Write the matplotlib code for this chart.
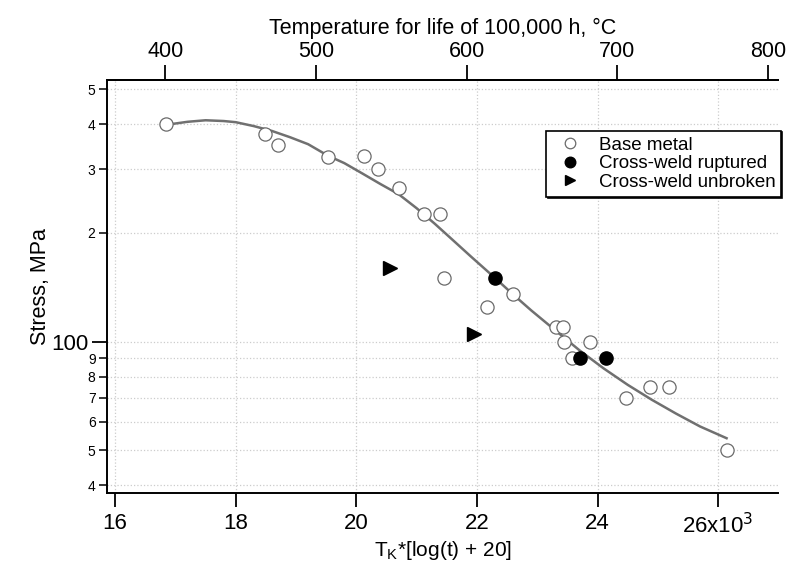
import matplotlib
matplotlib.use("Agg")
import matplotlib.pyplot as plt
from matplotlib.ticker import FixedLocator, FixedFormatter

plt.rcParams["font.family"] = ["Liberation Sans", "DejaVu Sans"]

# Larson-Miller parameter (x10^3) and stress (MPa)
base_x = [16.84, 18.485, 18.70, 19.53, 20.12, 20.36, 20.70, 21.13, 21.38, 21.46,
          22.16, 22.60, 23.31, 23.42, 23.45, 23.57, 23.88, 24.47, 24.87, 25.19, 26.14]
base_y = [400, 376, 350, 325, 326, 300, 266, 225, 225, 150,
          125, 135, 110, 110, 100, 90, 100, 70, 75, 75, 50]

rupt_x = [22.30, 23.71, 24.14]
rupt_y = [150, 90, 90]

unbr_x = [20.56, 21.95]
unbr_y = [160, 105]

# fitted curve
fit_x = [16.925, 17.2, 17.5, 17.8, 18.0, 18.3, 18.6, 18.9, 19.2, 19.53,
         19.8, 20.1, 20.4, 20.7, 21.0, 21.3, 21.6, 21.9, 22.3, 22.6,
         22.9, 23.3, 23.7, 24.1, 24.5, 24.9, 25.3, 25.7, 26.14]
fit_y = [400, 406, 410, 408, 405, 395, 383, 368, 352, 327,
         312, 292, 273, 256, 234, 212, 191, 172, 150, 135,
         122, 107.4, 94.6, 84.3, 75.9, 69, 63.2, 58.2, 54]

xticks = [16, 18, 20, 22, 24, 26]
xlabels = ["16", "18", "20", "22", "24", "26x10$^{3}$"]
temp_ticks = [400, 500, 600, 700, 800]
minor_y = [40, 50, 60, 70, 80, 90, 200, 300, 400, 500]
minor_lab = ["4", "5", "6", "7", "8", "9", "2", "3", "4", "5"]

fig = plt.figure(figsize=(7.87, 5.69), dpi=100)
ax = fig.add_axes([0.1356, 0.133, 0.8535, 0.7264])

ax.plot(fit_x, fit_y, color="#707070", lw=1.8, zorder=2)
ax.plot(base_x, base_y, "o", ms=9.5, mfc="white", mec="#6a6a6a", mew=0.9,
        ls="none", label="Base metal", zorder=3)
ax.plot(rupt_x, rupt_y, "o", ms=9.5, mfc="black", mec="black",
        ls="none", label="Cross-weld ruptured", zorder=4)
ax.plot(unbr_x, unbr_y, ">", ms=9.5, mfc="black", mec="black",
        ls="none", label="Cross-weld unbroken", zorder=4)

ax.set_yscale("log")
ax.set_xlim(15.86, 27.0)
ax.set_ylim(38, 530)

ax.set_xticks(xticks)
ax.set_xticklabels(xlabels, fontsize=16)
ax.tick_params(axis="x", which="major", direction="out", length=10, width=1.3, pad=4)

ax.yaxis.set_major_locator(FixedLocator([100]))
ax.yaxis.set_major_formatter(FixedFormatter(["100"]))
ax.yaxis.set_minor_locator(FixedLocator(minor_y))
ax.yaxis.set_minor_formatter(FixedFormatter(minor_lab))
ax.tick_params(axis="y", which="major", direction="out", length=11, width=1.3,
               labelsize=16, pad=2)
ax.tick_params(axis="y", which="minor", direction="out", length=6, width=1.1,
               labelsize=10, pad=2)

ax.grid(True, which="both", axis="y", color="#cccccc", ls=":", lw=0.9)
ax.grid(True, which="major", axis="x", color="#cccccc", ls=":", lw=0.9)

ax.spines["right"].set_visible(False)
for s in ["left", "bottom", "top"]:
    ax.spines[s].set_linewidth(1.4)

ax.set_xlabel("T$_\\mathregular{K}$*[log(t) + 20]", fontsize=15, labelpad=1)
ax.set_ylabel("Stress, MPa", fontsize=15.5, labelpad=0)

top = ax.secondary_xaxis("top", functions=(lambda x: 40 * x - 273.15,
                                            lambda t: (t + 273.15) / 40))
top.set_xticks(temp_ticks)
top.set_xticklabels([str(t) for t in temp_ticks], fontsize=15.5)
top.tick_params(direction="out", length=11, width=1.3, pad=2)
top.set_xlabel("Temperature for life of 100,000 h, °C", fontsize=15.5, labelpad=5)
top.spines["top"].set_linewidth(1.4)

leg = ax.legend(loc="upper right", bbox_to_anchor=(1.004, 0.8766), borderaxespad=0,
                fontsize=13.5, frameon=True, fancybox=False, markerscale=0.8,
                handletextpad=0.6, handlelength=1.9, borderpad=0.3,
                labelspacing=0.08,
                shadow={"ox": 1.0, "oy": -1.0, "color": "black", "alpha": 1.0})
leg.get_frame().set_edgecolor("black")
leg.get_frame().set_linewidth(1.2)
leg.get_frame().set_alpha(1.0)

fig.savefig("out.png", dpi=100)
